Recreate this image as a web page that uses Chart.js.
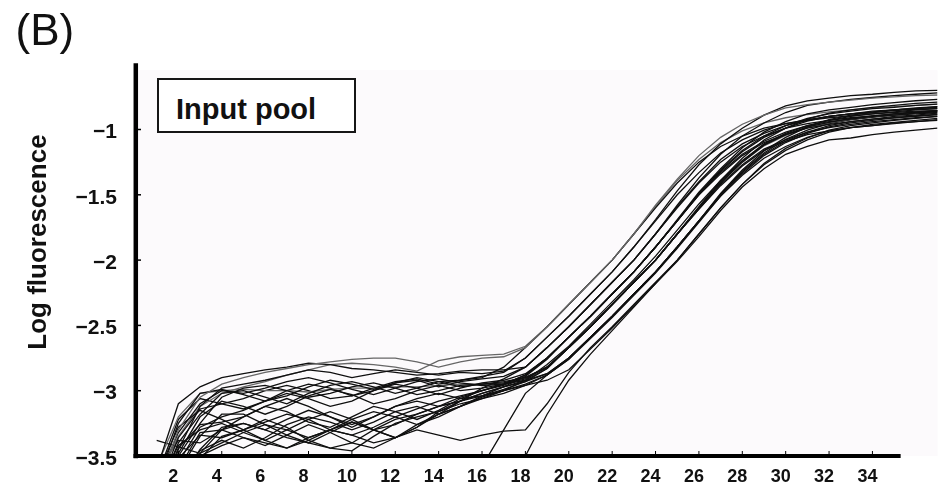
<!DOCTYPE html>
<html><head><meta charset="utf-8">
<script src="https://cdn.jsdelivr.net/npm/chart.js@4.4.1/dist/chart.umd.min.js"></script>
<style>
html,body{margin:0;padding:0;background:#fff;}
#wrap{position:relative;width:940px;height:487px;overflow:hidden;}
#c{position:absolute;left:0;top:0;}
#box{position:absolute;left:157px;top:78px;width:195px;height:51px;border:2px solid #161616;background:#fff;}
#box span{position:absolute;left:17px;top:12.5px;line-height:29px;font:bold 29px "Liberation Sans",Arial,sans-serif;color:#111;white-space:nowrap;}
</style>
</head><body>
<div id="wrap"><canvas id="c" width="940" height="487"></canvas><div id="box"><span>Input pool</span></div></div>
<script>
const cycles = [1,2,3,4,5,6,7,8,9,10,11,12,13,14,15,16,17,18,19,20,21,22,23,24,25,26,27,28,29,30,31,32,33,34,35,36,37];
const xTickValues = [2,4,6,8,10,12,14,16,18,20,22,24,26,28,30,32,34];
const yTickValues = [-3.5,-3,-2.5,-2,-1.5,-1];
const yTickLabels = ['\u22123.5','\u22123','\u22122.5','\u22122','\u22121.5','\u22121'];

const s01 = [-3.75,-3.30,-3.05,-2.95,-2.90,-2.86,-2.83,-2.80,-2.78,-2.76,-2.75,-2.75,-2.78,-2.82,-2.78,-2.75,-2.74,-2.67,-2.51,-2.34,-2.17,-2.00,-1.80,-1.58,-1.38,-1.20,-1.06,-0.96,-0.89,-0.835,-0.81,-0.79,-0.775,-0.76,-0.75,-0.74,-0.736];
const s02 = [-3.90,-3.45,-3.12,-2.98,-2.95,-2.92,-2.88,-2.84,-2.86,-2.90,-2.87,-2.84,-2.86,-2.88,-2.86,-2.87,-2.85,-2.75,-2.59,-2.43,-2.26,-2.09,-1.90,-1.69,-1.47,-1.27,-1.11,-0.99,-0.89,-0.82,-0.78,-0.76,-0.74,-0.73,-0.715,-0.705,-0.70];
const s03 = [-3.60,-3.10,-2.97,-2.90,-2.87,-2.84,-2.82,-2.79,-2.80,-2.83,-2.84,-2.86,-2.88,-2.87,-2.85,-2.84,-2.84,-2.82,-2.67,-2.51,-2.34,-2.17,-2.00,-1.80,-1.58,-1.37,-1.19,-1.05,-0.95,-0.87,-0.815,-0.79,-0.77,-0.755,-0.74,-0.73,-0.72];
const s04 = [-3.80,-3.40,-3.18,-3.02,-3.00,-3.05,-3.10,-3.02,-2.96,-2.93,-2.97,-3.02,-2.98,-2.93,-2.92,-2.90,-2.82,-2.67,-2.51,-2.34,-2.17,-2.00,-1.80,-1.60,-1.41,-1.25,-1.13,-1.05,-0.99,-0.955,-0.93,-0.91,-0.895,-0.88,-0.87,-0.86,-0.856];
const s05 = [-3.95,-3.55,-3.28,-3.20,-3.15,-3.08,-3.02,-3.06,-3.12,-3.08,-3.00,-2.95,-2.98,-3.03,-2.98,-2.94,-2.92,-2.87,-2.75,-2.59,-2.43,-2.26,-2.09,-1.90,-1.70,-1.49,-1.31,-1.16,-1.05,-0.97,-0.915,-0.88,-0.86,-0.84,-0.83,-0.815,-0.805];
const s06 = [-4.00,-3.70,-3.45,-3.28,-3.25,-3.30,-3.22,-3.15,-3.20,-3.28,-3.20,-3.12,-3.08,-3.12,-3.05,-3.00,-2.95,-2.88,-2.75,-2.59,-2.43,-2.26,-2.09,-1.90,-1.70,-1.50,-1.33,-1.19,-1.09,-1.02,-0.97,-0.94,-0.92,-0.90,-0.89,-0.875,-0.865];
const s07 = [-3.85,-3.50,-3.25,-3.05,-2.98,-2.96,-3.00,-3.05,-3.02,-2.97,-2.94,-2.98,-3.03,-3.00,-2.96,-2.95,-2.94,-2.90,-2.82,-2.67,-2.51,-2.34,-2.17,-2.00,-1.80,-1.60,-1.41,-1.25,-1.12,-1.04,-0.98,-0.945,-0.915,-0.895,-0.88,-0.865,-0.855];
const s08 = [-4.10,-3.80,-3.52,-3.35,-3.30,-3.22,-3.28,-3.38,-3.44,-3.40,-3.30,-3.22,-3.18,-3.12,-3.08,-3.02,-2.97,-2.92,-2.83,-2.67,-2.51,-2.34,-2.17,-2.00,-1.80,-1.61,-1.42,-1.27,-1.15,-1.08,-1.02,-0.985,-0.96,-0.94,-0.925,-0.91,-0.90];
const s09 = [-3.90,-3.62,-3.35,-3.18,-3.18,-3.26,-3.34,-3.40,-3.32,-3.24,-3.30,-3.36,-3.28,-3.16,-3.08,-3.02,-2.97,-2.93,-2.87,-2.75,-2.59,-2.43,-2.26,-2.09,-1.90,-1.70,-1.50,-1.33,-1.19,-1.09,-1.02,-0.97,-0.94,-0.92,-0.90,-0.89,-0.875];
const s10 = [-3.75,-3.42,-3.30,-3.25,-3.32,-3.38,-3.30,-3.22,-3.16,-3.22,-3.30,-3.26,-3.18,-3.12,-3.08,-3.04,-3.00,-2.96,-2.92,-2.84,-2.68,-2.52,-2.35,-2.18,-2.01,-1.82,-1.62,-1.44,-1.30,-1.19,-1.13,-1.08,-1.065,-1.04,-1.02,-1.005,-0.99];
const s11 = [-3.70,-3.32,-3.10,-3.00,-3.02,-2.98,-2.93,-2.90,-2.94,-2.99,-3.03,-2.98,-2.93,-2.91,-2.94,-2.96,-2.95,-2.92,-2.87,-2.75,-2.59,-2.43,-2.26,-2.09,-1.90,-1.70,-1.49,-1.31,-1.165,-1.06,-0.98,-0.925,-0.89,-0.87,-0.85,-0.84,-0.825];
const s12 = [-3.88,-3.48,-3.20,-3.08,-3.12,-3.18,-3.12,-3.04,-2.99,-3.03,-3.10,-3.06,-3.00,-2.96,-3.00,-2.98,-2.95,-2.91,-2.82,-2.67,-2.51,-2.34,-2.17,-2.00,-1.80,-1.59,-1.39,-1.22,-1.08,-0.99,-0.92,-0.875,-0.85,-0.83,-0.815,-0.80,-0.79];
const s13 = [-3.65,-3.28,-3.15,-3.22,-3.30,-3.38,-3.44,-3.38,-3.30,-3.24,-3.30,-3.36,-3.28,-3.18,-3.12,-3.04,-2.97,-2.89,-2.76,-2.59,-2.43,-2.26,-2.09,-1.90,-1.70,-1.50,-1.34,-1.20,-1.10,-1.04,-0.99,-0.96,-0.94,-0.92,-0.91,-0.895,-0.885];
const s14 = [-3.72,-3.25,-3.02,-2.99,-3.03,-3.08,-3.04,-2.97,-2.92,-2.95,-2.99,-2.94,-2.90,-2.93,-2.97,-2.95,-2.93,-2.90,-2.82,-2.67,-2.51,-2.34,-2.17,-2.00,-1.80,-1.60,-1.40,-1.24,-1.11,-1.03,-0.97,-0.93,-0.90,-0.88,-0.865,-0.85,-0.84];
const s15 = [-3.95,-3.60,-3.32,-3.30,-3.36,-3.42,-3.34,-3.26,-3.32,-3.40,-3.44,-3.36,-3.26,-3.18,-3.08,-2.98,-2.91,-2.82,-2.67,-2.51,-2.34,-2.17,-2.00,-1.80,-1.60,-1.41,-1.25,-1.13,-1.05,-0.99,-0.955,-0.93,-0.91,-0.895,-0.88,-0.87,-0.86];
const s16 = [-4.00,-3.72,-3.48,-3.30,-3.25,-3.30,-3.36,-3.40,-3.44,-3.46,-3.35,-3.25,-3.20,-3.16,-3.10,-3.06,-3.02,-2.96,-2.88,-2.76,-2.59,-2.43,-2.26,-2.09,-1.90,-1.70,-1.51,-1.35,-1.22,-1.13,-1.06,-1.01,-0.985,-0.97,-0.95,-0.94,-0.925];
const s17 = [-3.58,-3.20,-3.02,-3.00,-2.99,-3.00,-3.00,-3.01,-2.99,-2.98,-2.98,-2.97,-2.97,-2.96,-2.95,-2.95,-2.94,-2.90,-2.82,-2.67,-2.51,-2.34,-2.17,-2.00,-1.80,-1.60,-1.41,-1.25,-1.125,-1.045,-0.985,-0.95,-0.92,-0.90,-0.885,-0.87,-0.86];
const s18 = [-3.82,-3.44,-3.26,-3.24,-3.20,-3.12,-3.16,-3.24,-3.28,-3.20,-3.12,-3.16,-3.22,-3.15,-3.06,-3.00,-2.95,-2.88,-2.75,-2.59,-2.43,-2.26,-2.09,-1.90,-1.70,-1.49,-1.32,-1.17,-1.06,-0.99,-0.935,-0.90,-0.88,-0.86,-0.85,-0.835,-0.825];
const s19 = [-3.90,-3.85,-3.80,-3.78,-3.75,-3.80,-3.82,-3.78,-3.74,-3.70,-3.72,-3.75,-3.70,-3.66,-3.62,-3.58,-3.30,-3.02,-2.88,-2.76,-2.60,-2.44,-2.27,-2.10,-1.91,-1.71,-1.51,-1.34,-1.20,-1.10,-1.03,-0.98,-0.95,-0.93,-0.91,-0.90,-0.885];
const s20 = [-3.90,-3.80,-3.75,-3.70,-3.72,-3.76,-3.80,-3.74,-3.68,-3.66,-3.70,-3.74,-3.70,-3.66,-3.64,-3.62,-3.60,-3.50,-3.18,-2.92,-2.72,-2.54,-2.36,-2.18,-2.00,-1.80,-1.60,-1.42,-1.27,-1.16,-1.08,-1.02,-0.985,-0.96,-0.945,-0.93,-0.915];
const s21 = [-3.95,-3.68,-3.50,-3.42,-3.36,-3.40,-3.44,-3.36,-3.30,-3.34,-3.40,-3.36,-3.30,-3.34,-3.38,-3.34,-3.31,-3.30,-3.10,-2.86,-2.67,-2.51,-2.34,-2.17,-2.00,-1.80,-1.60,-1.42,-1.26,-1.145,-1.065,-1.005,-0.97,-0.95,-0.93,-0.915,-0.90];
const s22 = [-3.78,-3.36,-3.14,-3.10,-3.06,-3.00,-2.96,-3.00,-3.06,-3.04,-2.98,-2.93,-2.91,-2.95,-2.92,-2.89,-2.86,-2.75,-2.59,-2.43,-2.26,-2.09,-1.90,-1.70,-1.50,-1.33,-1.18,-1.08,-1.005,-0.955,-0.925,-0.90,-0.88,-0.87,-0.855,-0.845,-0.84];
const s23 = [-3.86,-3.52,-3.34,-3.36,-3.30,-3.24,-3.18,-3.22,-3.30,-3.34,-3.28,-3.20,-3.14,-3.08,-3.04,-3.00,-2.96,-2.88,-2.75,-2.59,-2.43,-2.26,-2.09,-1.90,-1.69,-1.48,-1.30,-1.14,-1.02,-0.94,-0.88,-0.85,-0.83,-0.81,-0.795,-0.78,-0.77];
const s24 = [-3.70,-3.35,-3.12,-3.02,-2.97,-2.93,-2.88,-2.84,-2.80,-2.79,-2.80,-2.82,-2.85,-2.77,-2.74,-2.73,-2.72,-2.66,-2.51,-2.34,-2.17,-2.00,-1.80,-1.59,-1.39,-1.23,-1.10,-1.01,-0.95,-0.91,-0.885,-0.865,-0.85,-0.835,-0.825,-0.815,-0.806];
const s25 = [-3.62,-3.38,-3.40,-3.30,-3.20,-3.12,-3.06,-3.12,-3.20,-3.26,-3.20,-3.12,-3.06,-3.02,-3.06,-3.04,-2.99,-2.93,-2.83,-2.67,-2.51,-2.34,-2.17,-2.00,-1.80,-1.61,-1.43,-1.28,-1.16,-1.09,-1.04,-1.01,-0.985,-0.97,-0.955,-0.94,-0.93];
const s26 = [-3.38,-3.43,-3.48,-3.40,-3.32,-3.26,-3.30,-3.36,-3.30,-3.22,-3.16,-3.20,-3.26,-3.20,-3.12,-3.06,-3.00,-2.92,-2.80,-2.66,-2.49,-2.32,-2.15,-1.97,-1.77,-1.57,-1.39,-1.24,-1.12,-1.04,-0.985,-0.95,-0.925,-0.905,-0.89,-0.88,-0.87];
const s27 = [-3.66,-3.22,-3.06,-3.10,-3.14,-3.08,-3.00,-2.95,-2.98,-3.04,-3.00,-2.94,-2.92,-2.97,-2.93,-2.91,-2.89,-2.82,-2.67,-2.51,-2.34,-2.17,-2.00,-1.80,-1.59,-1.40,-1.23,-1.11,-1.03,-0.97,-0.93,-0.90,-0.88,-0.865,-0.85,-0.84,-0.83];
const s28 = [-3.92,-3.66,-3.46,-3.38,-3.44,-3.36,-3.26,-3.20,-3.24,-3.30,-3.24,-3.16,-3.12,-3.18,-3.12,-3.05,-3.00,-2.95,-2.88,-2.75,-2.59,-2.43,-2.26,-2.09,-1.90,-1.70,-1.50,-1.32,-1.18,-1.075,-1.005,-0.955,-0.925,-0.905,-0.885,-0.87,-0.855];

const seriesList = [s01,s02,s03,s04,s05,s06,s07,s08,s09,s10,s11,s12,s13,s14,s15,s16,s17,s18,s19,s20,s21,s22,s23,s24,s25,s26,s27,s28];
const grayLines = [0,23,16];

const FONT = '"Liberation Sans", Arial, sans-serif';

const axesPlugin = {
  id: 'axesPlugin',
  beforeDatasetsDraw(chart) {
    const {ctx, chartArea} = chart;
    const y = chart.scales.y;
    ctx.save();
    ctx.fillStyle = '#fcfafc';
    const top = y.getPixelForValue(-0.545);
    ctx.fillRect(chartArea.left, top, chartArea.right - chartArea.left, chartArea.bottom - top);
    ctx.restore();
  },
  afterDatasetsDraw(chart) {
    const {ctx, chartArea} = chart;
    const x = chart.scales.x, y = chart.scales.y;
    ctx.save();
    ctx.strokeStyle = '#000';
    ctx.lineCap = 'butt';
    ctx.lineWidth = 1.5;
    yTickValues.forEach(v => {
      if (v === -3.5) return;
      const py = y.getPixelForValue(v);
      ctx.beginPath(); ctx.moveTo(chartArea.left, py); ctx.lineTo(chartArea.left + 6, py); ctx.stroke();
    });
    ctx.lineWidth = 1;
    xTickValues.forEach(v => {
      const px = x.getPixelForValue(v);
      ctx.beginPath(); ctx.moveTo(px, chartArea.bottom); ctx.lineTo(px, chartArea.bottom - 5); ctx.stroke();
    });
    ctx.lineWidth = 4.5;
    ctx.beginPath(); ctx.moveTo(chartArea.left + 0.8, chartArea.top - 1); ctx.lineTo(chartArea.left + 0.8, chartArea.bottom + 2.2); ctx.stroke();
    ctx.lineWidth = 4;
    ctx.beginPath(); ctx.moveTo(chartArea.left - 1.5, chartArea.bottom); ctx.lineTo(x.getPixelForValue(35.3), chartArea.bottom); ctx.stroke();
    ctx.restore();
  }
};

new Chart(document.getElementById('c'), {
  type: 'line',
  data: {
    datasets: seriesList.map((vals, i) => ({
      label: 'well ' + (i + 1),
      data: vals.map((v, k) => ({x: cycles[k], y: v})),
      borderColor: grayLines.includes(i) ? '#666666' : '#0f0f0f',
      borderWidth: 1.3,
      pointRadius: 0,
      tension: 0,
      fill: false
    }))
  },
  options: {
    responsive: false,
    animation: false,
    devicePixelRatio: 1,
    layout: {padding: {left: 15.5, right: 2.5, top: 0, bottom: 0}},
    plugins: {
      legend: {display: false},
      tooltip: {enabled: false},
      title: {
        display: true, text: '(B)', align: 'start', color: '#111',
        font: {family: FONT, size: 44, weight: 'normal', lineHeight: 1},
        padding: {top: 11, bottom: 9.2}
      }
    },
    scales: {
      x: {
        type: 'linear', min: 0, max: 37,
        grid: {display: false, drawTicks: false},
        border: {display: false},
        ticks: {color: '#111', font: {family: FONT, size: 18, weight: 'bold'}, padding: 10, maxRotation: 0, autoSkip: false, labelOffset: -5},
        afterBuildTicks: s => { s.ticks = xTickValues.map(v => ({value: v})); },
        afterFit: s => { s.height = 31; }
      },
      y: {
        type: 'linear', min: -3.5, max: -0.5,
        grid: {display: false, drawTicks: false},
        border: {display: false},
        ticks: {
          color: '#111', font: {family: FONT, size: 21, weight: 'bold'}, padding: 18, autoSkip: false, labelOffset: 3,
          callback: (value, index) => yTickLabels[index]
        },
        afterBuildTicks: s => { s.ticks = yTickValues.map(v => ({value: v})); },
        afterFit: s => { s.width = 119.5; },
        title: {
          display: true, text: '     Log fluorescence', color: '#111',
          font: {family: FONT, size: 26, weight: 'bold', lineHeight: 1.2},
          padding: {top: 7.9, bottom: 0}
        }
      }
    }
  },
  plugins: [axesPlugin]
});
</script>
</body></html>
